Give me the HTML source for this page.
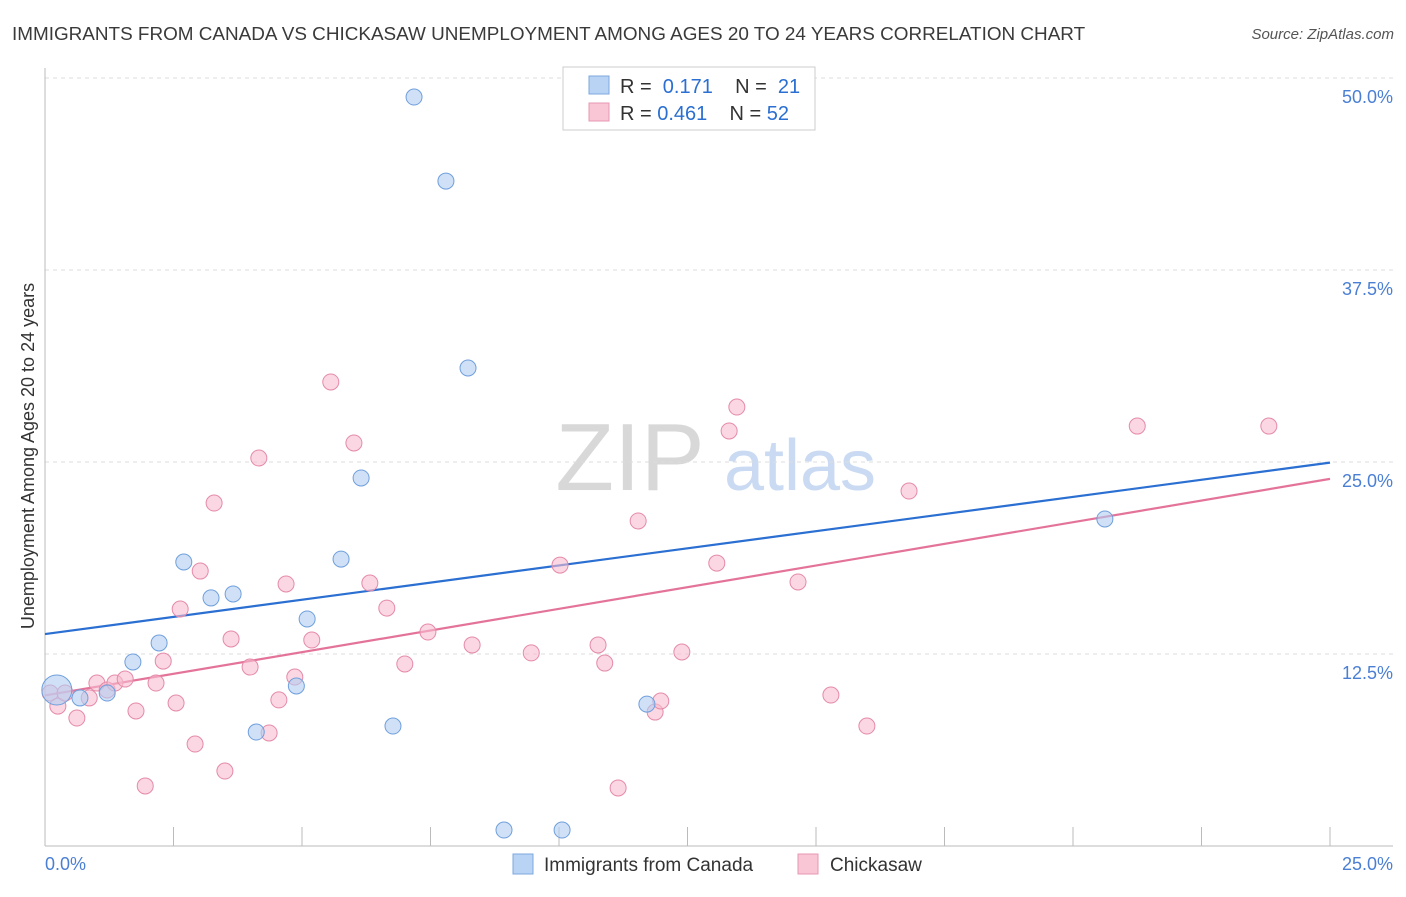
<!DOCTYPE html>
<html><head><meta charset="utf-8"><style>
body{margin:0;background:#fff;font-family:"Liberation Sans",sans-serif;}
svg text{font-family:"Liberation Sans",sans-serif;}
</style></head><body>
<svg id="chart" width="1406" height="892" viewBox="0 0 1406 892" xmlns="http://www.w3.org/2000/svg">
<text x="12" y="40" font-size="18.9" fill="#3a3a3a">IMMIGRANTS FROM CANADA VS CHICKASAW UNEMPLOYMENT AMONG AGES 20 TO 24 YEARS CORRELATION CHART</text>
<text x="1394" y="39" font-size="15" fill="#555" font-style="italic" text-anchor="end">Source: ZipAtlas.com</text>
<g>
<text x="630" y="490" font-size="96" fill="#d8d8d8" font-family="Liberation Serif" text-anchor="middle">ZIP</text>
<text x="800" y="490" font-size="72" fill="#c9daf2" text-anchor="middle">atlas</text>
</g>
<g id="grid"></g><g id="axes"></g><g id="lines"></g><g id="points"></g>
<text transform="translate(34,456) rotate(-90)" font-size="18" fill="#333" text-anchor="middle">Unemployment Among Ages 20 to 24 years</text>
<g>
<rect x="563" y="67" width="252" height="63" fill="#fff" stroke="#ccc"/>
<rect x="589" y="76" width="20" height="18" fill="#b9d3f5" stroke="#7da7de"/>
<rect x="589" y="103" width="20" height="18" fill="#f9c6d6" stroke="#e897b2"/>
<text x="620" y="93" font-size="20" fill="#333">R = <tspan fill="#2a6fd1">&#160;0.171</tspan>&#160;&#160;&#160; N = <tspan fill="#2a6fd1">&#160;21</tspan></text>
<text x="620" y="120" font-size="20" fill="#333">R = <tspan fill="#2a6fd1">0.461</tspan>&#160;&#160;&#160; N = <tspan fill="#2a6fd1">52</tspan></text>
</g>
<g>
<rect x="513" y="854" width="20" height="20" fill="#b9d3f5" stroke="#7da7de"/>
<text x="544" y="871" font-size="19" fill="#333">Immigrants from Canada</text>
<rect x="798" y="854" width="20" height="20" fill="#f9c6d6" stroke="#e897b2"/>
<text x="830" y="871" font-size="19" fill="#333">Chickasaw</text>
</g>
</svg>
<script>
const blueX=[0.23,0.68,1.21,1.71,2.22,2.70,3.23,3.66,4.11,4.89,5.10,5.76,6.15,6.77,7.18,7.80,8.23,8.93,10.06,11.71,20.62];
const blueY=[10.16,9.64,9.96,11.98,13.22,18.49,16.15,16.41,7.42,10.42,14.78,18.68,23.96,7.81,48.76,43.29,31.12,1.04,1.04,9.24,21.29];
const blueBig=[1,0,0,0,0,0,0,0,0,0,0,0,0,0,0,0,0,0,0,0,0];
const pinkX=[0.10,0.25,0.39,0.62,0.86,1.01,1.21,1.36,1.56,1.77,1.95,2.16,2.30,2.55,2.63,2.92,3.02,3.29,3.50,3.62,3.99,4.16,4.36,4.55,4.69,4.86,5.19,5.56,6.01,6.32,6.65,7.00,7.45,8.31,9.46,10.02,10.76,10.89,11.15,11.54,11.87,11.98,12.39,13.07,13.31,13.46,14.65,15.29,15.99,16.81,21.25,23.81];
const pinkY=[9.96,9.11,9.96,8.33,9.64,10.61,10.16,10.61,10.87,8.79,3.91,10.61,12.04,9.31,15.43,6.64,17.90,22.33,4.88,13.48,11.65,25.26,7.36,9.51,17.06,11.00,13.41,30.21,26.24,17.12,15.49,11.85,13.93,13.09,12.57,18.29,13.09,11.91,3.78,21.16,8.72,9.44,12.63,18.42,27.02,28.58,17.19,9.83,7.81,23.11,27.34,27.34];
const blueLine=[13.8,24.96];
const pinkLine=[9.8,23.9];
const yTicks=[12.5,25,37.5,50];
const yTickLabels=["12.5%","25.0%","37.5%","50.0%"];
const xTicks=[2.5,5,7.5,10,12.5,15,17.5,20,22.5,25];

const NS="http://www.w3.org/2000/svg";
const sx=v=>45+v*51.4, sy=v=>846-v*15.36;
function mk(tag,attrs,parent){const e=document.createElementNS(NS,tag);for(const k in attrs)e.setAttribute(k,attrs[k]);document.getElementById(parent).appendChild(e);return e;}
yTicks.forEach((t,i)=>{
  const g=mk('line',{x1:45,x2:1393,y1:sy(t),y2:sy(t),stroke:'#ddd','stroke-dasharray':'4,4'},'grid');
  
  
  const l=mk('text',{x:1393,y:sy(t)+25,'font-size':18,fill:'#4a7fd4','text-anchor':'end'},'axes');
  l.textContent=yTickLabels[i];
  
  
});
const xa=mk('line',{x1:45,x2:1393,y1:846,y2:846,stroke:'#bbb'},'axes');


const ya=mk('line',{x1:45,x2:45,y1:68,y2:846,stroke:'#bbb'},'axes');


xTicks.forEach(t=>{
  const k=mk('line',{x1:sx(t),x2:sx(t),y1:827,y2:846,stroke:'#bbb'},'axes');
  
  
});
const x0=mk('text',{x:45,y:870,'font-size':18,fill:'#4a7fd4'},'axes');x0.textContent='0.0%';


const x1=mk('text',{x:1393,y:870,'font-size':18,fill:'#4a7fd4','text-anchor':'end'},'axes');x1.textContent='25.0%';


function pts(X,Y,fill,stroke,name,big){
  X.forEach((x,i)=>{
    const c=mk('circle',{cx:sx(x),cy:sy(Y[i]),r:big&&big[i]?15:8,fill:fill,'fill-opacity':0.6,stroke:stroke,'stroke-width':1},'points');
    
    
  });
}
pts(pinkX,pinkY,'#f7bccf','#e58aa8','chickasaw-point');
pts(blueX,blueY,'#b0cdf2','#6f9fdc','canada-point',blueBig);
const bl=mk('line',{x1:sx(0),y1:sy(blueLine[0]),x2:sx(25),y2:sy(blueLine[1]),stroke:'#2a6fd1','stroke-width':2.2},'lines');


const pl=mk('line',{x1:sx(0),y1:sy(pinkLine[0]),x2:sx(25),y2:sy(pinkLine[1]),stroke:'#e4739a','stroke-width':2.2},'lines');


</script>
</body></html>
